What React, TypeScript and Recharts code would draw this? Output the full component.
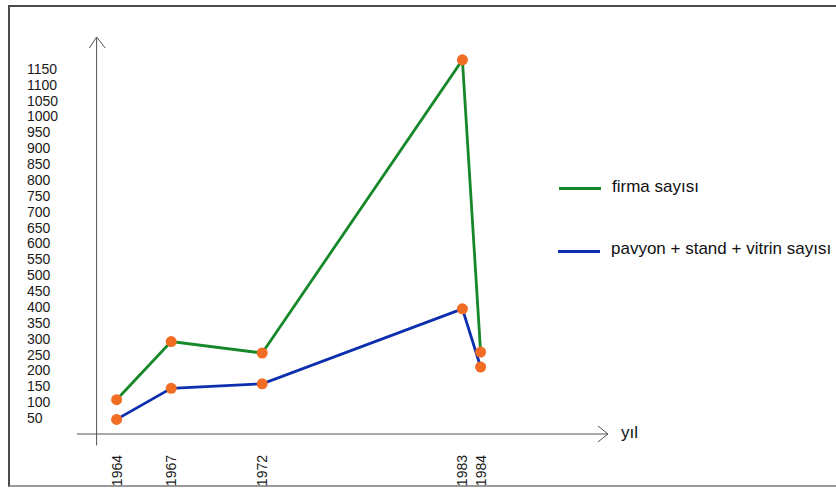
import { LineChart, Line, XAxis, YAxis, ReferenceLine } from "recharts";

const years = [1964, 1967, 1972, 1983, 1984];
const firma = [108, 291, 255, 1178, 258];
const pavyon = [46, 144, 158, 394, 211];
const yTicks = [50, 100, 150, 200, 250, 300, 350, 400, 450, 500, 550, 600, 650, 700, 750, 800, 850, 900, 950, 1000, 1050, 1100, 1150];

const seriesNames = ["firma sayısı", "pavyon + stand + vitrin sayısı"];
const GREEN = "#16882a";
const BLUE = "#0b2fae";
const ORANGE = "#f26d24";
const AXIS = "#555555";
const FONT = "'Liberation Sans', Arial, sans-serif";

const data = years.map((year, i) => ({ year, firma: firma[i], pavyon: pavyon[i] }));

const XTick = (props: any) => {
  const { x, payload } = props;
  return (
    <text
      transform={`translate(${x + 5},455) rotate(-90)`}
      textAnchor="end"
      fontSize={14}
      fontFamily={FONT}
      fill="#1a1a1a"
    >
      {payload.value}
    </text>
  );
};

const YTick = (props: any) => {
  const { y, payload } = props;
  return (
    <text x={27} y={y + 5} textAnchor="start" fontSize={14} fontFamily={FONT} fill="#1a1a1a">
      {payload.value}
    </text>
  );
};

const dotStyle = { r: 5.5, fill: ORANGE, stroke: ORANGE, strokeWidth: 0 };

export default function App() {
  return (
    <div
      style={{
        position: "absolute",
        left: 0,
        top: 0,
        width: 836,
        height: 490,
        overflow: "hidden",
        background: "#fff",
        fontFamily: FONT,
      }}
    >
      <div
        style={{
          position: "absolute",
          left: 8,
          top: 5,
          width: 850,
          height: 482,
          borderTop: "2px solid #4a4a4a",
          borderLeft: "2px solid #4a4a4a",
          borderBottom: "2px solid #9a9a9a",
          boxSizing: "border-box",
        }}
      />
      <div style={{ position: "absolute", left: 0, top: 0 }}>
        <LineChart
          width={836}
          height={490}
          data={data}
          margin={{ top: 37, right: 228, bottom: 0, left: 0 }}
        >
          <XAxis
            dataKey="year"
            type="number"
            domain={[1961, 1991]}
            ticks={years}
            axisLine={false}
            tickLine={false}
            height={56}
            tick={<XTick />}
            interval={0}
          />
          <YAxis
            type="number"
            domain={[0, 1250]}
            ticks={yTicks}
            axisLine={false}
            tickLine={false}
            width={62}
            tick={<YTick />}
            interval={0}
          />
          {/* axes drawn as arrows */}
          <ReferenceLine
            segment={[{ x: 1961.82, y: 0 }, { x: 1991, y: 0 }]}
            stroke={AXIS}
            strokeWidth={1}
            ifOverflow="visible"
          />
          <ReferenceLine
            segment={[{ x: 1990.45, y: 25 }, { x: 1991, y: 0 }]}
            stroke={AXIS}
            strokeWidth={1}
            ifOverflow="visible"
          />
          <ReferenceLine
            segment={[{ x: 1990.45, y: -25 }, { x: 1991, y: 0 }]}
            stroke={AXIS}
            strokeWidth={1}
            ifOverflow="visible"
          />
          <ReferenceLine
            segment={[{ x: 1962.9, y: -36 }, { x: 1962.9, y: 1250 }]}
            stroke={AXIS}
            strokeWidth={1}
            ifOverflow="visible"
          />
          <ReferenceLine
            segment={[{ x: 1962.5, y: 1215 }, { x: 1962.9, y: 1250 }]}
            stroke={AXIS}
            strokeWidth={1}
            ifOverflow="visible"
          />
          <ReferenceLine
            segment={[{ x: 1963.38, y: 1215 }, { x: 1962.9, y: 1250 }]}
            stroke={AXIS}
            strokeWidth={1}
            ifOverflow="visible"
          />
          <Line
            type="linear"
            dataKey="firma"
            name={seriesNames[0]}
            stroke={GREEN}
            strokeWidth={2.8}
            dot={dotStyle}
            activeDot={false}
            isAnimationActive={false}
          />
          <Line
            type="linear"
            dataKey="pavyon"
            name={seriesNames[1]}
            stroke={BLUE}
            strokeWidth={2.8}
            dot={dotStyle}
            activeDot={false}
            isAnimationActive={false}
          />
        </LineChart>
      </div>
      {/* legend */}
      <div style={{ position: "absolute", left: 559, top: 187, width: 42, height: 3, background: GREEN }} />
      <div style={{ position: "absolute", left: 612, top: 176, fontSize: 17, lineHeight: "22px", color: "#111", whiteSpace: "nowrap" }}>
        {seriesNames[0]}
      </div>
      <div style={{ position: "absolute", left: 558, top: 250, width: 42, height: 3, background: BLUE }} />
      <div style={{ position: "absolute", left: 611, top: 238, fontSize: 17, lineHeight: "22px", color: "#111", whiteSpace: "nowrap" }}>
        {seriesNames[1]}
      </div>
      <div style={{ position: "absolute", left: 621, top: 422, fontSize: 17, lineHeight: "22px", color: "#111" }}>
        yıl
      </div>
    </div>
  );
}
